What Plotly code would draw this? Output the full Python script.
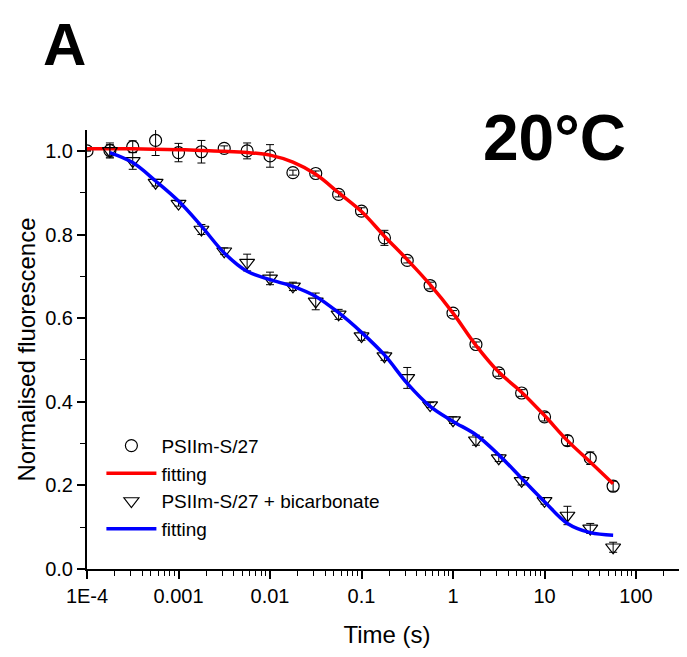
import plotly.graph_objects as go

# Time points (s), quarter-decade spacing
time_s = [1e-4, 1.78e-4, 3.16e-4, 5.62e-4, 1e-3, 1.78e-3, 3.16e-3, 5.62e-3,
          0.01, 0.0178, 0.0316, 0.0562, 0.1, 0.178, 0.316, 0.562,
          1, 1.78, 3.16, 5.62, 10, 17.8, 31.6, 56.2]

# PSIIm-S/27 (circles)
psii = [1.000, 1.001, 1.010, 1.025, 0.996, 0.998, 1.006, 1.000, 0.988, 0.948, 0.946, 0.896,
        0.856, 0.792, 0.738, 0.678, 0.612, 0.537, 0.469, 0.421, 0.364, 0.307, 0.265, 0.198]
psii_err = [0.0, 0.018, 0.014, 0.036, 0.022, 0.027, 0.006, 0.019, 0.027, 0.006, 0.006, 0.006,
            0.008, 0.018, 0.006, 0.008, 0.006, 0.006, 0.008, 0.008, 0.010, 0.012, 0.015, 0.012]
psii_fit = [1.005, 1.005, 1.005, 1.004, 1.003, 1.001, 0.999, 0.996, 0.990, 0.973, 0.944, 0.900,
            0.855, 0.796, 0.740, 0.680, 0.612, 0.535, 0.471, 0.423, 0.367, 0.307, 0.256, 0.204]

# PSIIm-S/27 + bicarbonate (triangles)
time_bic = time_s[1:]
bic = [1.000, 0.976, 0.924, 0.874, 0.812, 0.760, 0.733, 0.695, 0.676, 0.640, 0.609, 0.557,
       0.509, 0.457, 0.392, 0.356, 0.308, 0.265, 0.211, 0.163, 0.128, 0.097, 0.052]
bic_err = [0.015, 0.020, 0.008, 0.006, 0.012, 0.008, 0.020, 0.015, 0.010, 0.020, 0.012, 0.010,
           0.010, 0.025, 0.006, 0.008, 0.012, 0.008, 0.010, 0.008, 0.022, 0.012, 0.012]
bic_fit = [0.996, 0.972, 0.928, 0.880, 0.820, 0.756, 0.712, 0.692, 0.676, 0.652, 0.613, 0.566,
           0.512, 0.444, 0.389, 0.353, 0.321, 0.273, 0.217, 0.161, 0.109, 0.087, 0.081]

x_tickvals = [1e-4, 1e-3, 1e-2, 1e-1, 1, 10, 100]
x_ticktext = ["1E-4", "0.001", "0.01", "0.1", "1", "10", "100"]
y_tickvals = [0.0, 0.2, 0.4, 0.6, 0.8, 1.0]

FONT = "Liberation Sans, Arial, sans-serif"

fig = go.Figure()
fig.add_trace(go.Scatter(
    x=time_s, y=psii, mode="markers", name="PSIIm-S/27",
    marker=dict(symbol="circle-open", size=12, color="black", line=dict(width=1.2, color="black")),
    error_y=dict(type="data", array=psii_err, visible=True, color="black", thickness=1, width=4),
))
fig.add_trace(go.Scatter(
    x=time_s, y=psii_fit, mode="lines", name="fitting",
    line=dict(color="#ff0000", width=3.5, shape="spline", smoothing=1.0),
))
fig.add_trace(go.Scatter(
    x=time_bic, y=bic, mode="markers", name="PSIIm-S/27 + bicarbonate",
    marker=dict(symbol="triangle-down-open", size=13, color="black", line=dict(width=1.2, color="black")),
    error_y=dict(type="data", array=bic_err, visible=True, color="black", thickness=1, width=4),
))
fig.add_trace(go.Scatter(
    x=time_bic, y=bic_fit, mode="lines", name="fitting",
    line=dict(color="#0000ff", width=3.5, shape="spline", smoothing=1.0),
))

fig.update_layout(
    width=687, height=657,
    margin=dict(l=79, r=8, t=122, b=96),
    paper_bgcolor="white", plot_bgcolor="white",
    font=dict(family=FONT, color="black", size=20),
    showlegend=True,
    legend=dict(x=0.024, y=0.324, xanchor="left", yanchor="top",
                bgcolor="rgba(0,0,0,0)", font=dict(size=19, family=FONT),
                tracegroupgap=0, itemwidth=50),
    annotations=[
        dict(text="<b>20°C</b>", x=0.779, y=0.982, xref="paper", yref="paper",
             xanchor="center", yanchor="middle", showarrow=False,
             font=dict(size=64, family=FONT, color="black")),
        dict(text="<b>A</b>", x=-0.038, y=1.275, xref="paper", yref="paper",
             xanchor="center", yanchor="top", showarrow=False,
             font=dict(size=60, family=FONT, color="black")),
    ],
)
fig.update_xaxes(
    type="log", range=[-4, 2.557],
    tickvals=x_tickvals, ticktext=x_ticktext,
    showline=True, linecolor="black", linewidth=2, mirror=False,
    ticks="outside", ticklen=8, tickwidth=1.5, tickcolor="black",
    minor=dict(ticks="outside", ticklen=5, tickwidth=1, tickcolor="black", dtick="D1", showgrid=False),
    showgrid=False, zeroline=False,
    tickfont=dict(size=20, family=FONT),
    title=dict(text="Time (s)", font=dict(size=24, family=FONT), standoff=20),
    automargin=False,
)
fig.update_yaxes(
    range=[0, 1.05],
    tickvals=y_tickvals, tickformat=".1f",
    showline=True, linecolor="black", linewidth=2, mirror=False,
    ticks="outside", ticklen=8, tickwidth=1.5, tickcolor="black",
    minor=dict(ticks="outside", ticklen=5, tickwidth=1, tickcolor="black", dtick=0.1, showgrid=False),
    showgrid=False, zeroline=False,
    tickfont=dict(size=20, family=FONT),
    title=dict(text="Normalised fluorescence", font=dict(size=24, family=FONT), standoff=3),
    automargin=False,
)

fig.write_html("out.html")
